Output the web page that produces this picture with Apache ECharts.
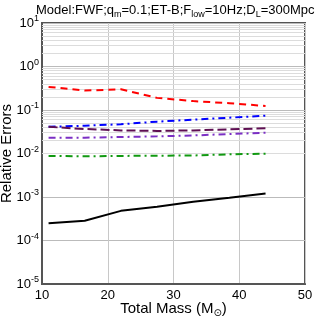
<!DOCTYPE html>
<html><head><meta charset="utf-8">
<script src="https://cdn.jsdelivr.net/npm/echarts@6/dist/echarts.min.js"></script>
<style>html,body{margin:0;padding:0;background:#fff}#c{width:316px;height:321px}</style>
</head><body><div id="c"></div>
<script>
var masses = [11, 16.5, 22, 27.5, 33, 38.5, 44];
var redDashed   = [0.34, 0.28, 0.30, 0.19, 0.16, 0.143, 0.124];
var blueDashDot = [0.041, 0.0436, 0.047, 0.054, 0.060, 0.0665, 0.074];
var plumDashed  = [0.041, 0.0366, 0.034, 0.033, 0.034, 0.036, 0.038];
var violetDashDot = [0.0231, 0.0231, 0.0239, 0.0248, 0.026, 0.028, 0.030];
var greenDashDot = [0.0088, 0.0086, 0.0088, 0.0089, 0.0090, 0.0096, 0.0099];
var blackSolid  = [2.5e-4, 2.85e-4, 4.8e-4, 6.0e-4, 7.8e-4, 9.6e-4, 1.2e-3];
var xTicks = [10, 20, 30, 40, 50];
var yExponents = [-5, -4, -3, -2, -1, 0, 1];

function pairs(ys){ return masses.map(function(m,i){ return [m, ys[i]]; }); }
var minorLines = [];
for (var e = -5; e < 1; e++) { for (var k = 2; k <= 9; k++) minorLines.push({yAxis: k * Math.pow(10, e)}); }
var font = 'Liberation Sans, Arial, sans-serif';

var chart = echarts.init(document.getElementById('c'), null, {renderer:'canvas'});
function mk(name, ys, color, type, w){
  return {name:name, type:'line', data:pairs(ys), symbol:'none', smooth:false, z:5,
    lineStyle:{color:color, width:w||2, type:type}};
}
chart.setOption({
  animation:false,
  title:{
    text:'Model:FWF;q{sub|m}=0.1;ET-B;F{sub|low}=10Hz;D{sub|L}=300Mpc',
    left:31, top:-3,
    textStyle:{fontFamily:font, fontSize:13, fontWeight:'normal', color:'#000', lineHeight:17,
      rich:{sub:{fontFamily:font, fontSize:9, verticalAlign:'bottom', lineHeight:17, padding:[6,0,0,0]}}}
  },
  grid:{left:42, right:11, top:23, bottom:37, show:true, borderColor:'#555', borderWidth:2,
    containLabel:false, outerBoundsMode:'none'},
  xAxis:{type:'value', min:10, max:50, interval:10,
    name:'Total Mass (M{sub|⊙})', nameLocation:'middle', nameGap:16, nameMoveOverlap:false,
    nameTextStyle:{fontFamily:font, fontSize:15, color:'#000',
      rich:{sub:{fontFamily:'DejaVu Sans', fontSize:10, verticalAlign:'bottom', padding:[8,0,0,0]}}},
    axisLine:{show:true, lineStyle:{color:'#555', width:2}},
    axisTick:{show:false},
    axisLabel:{fontFamily:font, fontSize:13, color:'#000', margin:5,
      formatter:function(v){ return xTicks.indexOf(v) >= 0 ? String(v) : ''; }},
    splitLine:{show:true, lineStyle:{color:'#c8c8c8', width:1}}
  },
  yAxis:{type:'log', logBase:10, min:1e-5, max:10,
    name:'Relative Errors', nameLocation:'middle', nameGap:28, nameMoveOverlap:false,
    nameTextStyle:{fontFamily:font, fontSize:15, color:'#000'},
    axisLine:{show:true, lineStyle:{color:'#555', width:2}},
    axisTick:{show:false},
    axisLabel:{fontFamily:font, fontSize:13, color:'#000', margin:3,
      formatter:function(v){ var ex = Math.round(Math.log10(v)); return yExponents.indexOf(ex)>=0 ? '10{sup|' + ex + '}' : ''; },
      rich:{sup:{fontFamily:font, fontSize:9, verticalAlign:'top', padding:[0,0,8,0]}}},
    splitLine:{show:true, lineStyle:{color:'#bbb', width:1}}
  },
  series:[
    {type:'line', data:[], z:1, silent:true,
      markLine:{silent:true, symbol:'none', label:{show:false}, animation:false,
        lineStyle:{color:'#dcdcdc', width:1, type:'solid'}, data:minorLines}},
    mk('red', redDashed, '#ff0000', [7,5]),
    mk('blue', blueDashDot, '#0000ff', [7,4,2,4]),
    mk('plum', plumDashed, '#5e0f52', [9,4]),
    mk('violet', violetDashDot, '#7b2fc4', [7,4,2,4]),
    mk('green', greenDashDot, '#119911', [7,4,2,4]),
    mk('black', blackSolid, '#000000', 'solid')
  ]
});
</script></body></html>
